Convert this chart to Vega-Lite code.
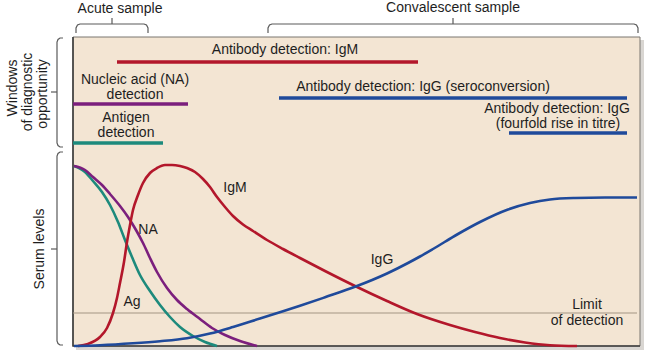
{
  "$schema": "https://vega.github.io/schema/vega-lite/v6.json",
  "width": 650,
  "height": 355,
  "autosize": {"type": "fit", "contains": "padding"},
  "padding": 0,
  "background": "white",
  "config": {"view": {"stroke": null}, "text": {"font": "Liberation Sans"}},
  "datasets": {
    "shadow": [{"x": 76, "y": 40, "x2": 644, "y2": 350}],
    "box": [{"x": 73, "y": 37, "x2": 640, "y2": 346}],
    "edges": [
      {"id": "left", "o": 1, "x": 73, "y": 37},
      {"id": "left", "o": 2, "x": 73, "y": 346},
      {"id": "left", "o": 3, "x": 640, "y": 346}
    ],
    "limit": [{"x": 73, "x2": 637, "y": 313}],
    "curves": [
      {"s": "Ag", "x": 74, "y": 166}, {"s": "Ag", "x": 85, "y": 172}, {"s": "Ag", "x": 93, "y": 181}, {"s": "Ag", "x": 102, "y": 192}, {"s": "Ag", "x": 110, "y": 205}, {"s": "Ag", "x": 118, "y": 222}, {"s": "Ag", "x": 125, "y": 240}, {"s": "Ag", "x": 132, "y": 257}, {"s": "Ag", "x": 140, "y": 275}, {"s": "Ag", "x": 150, "y": 291}, {"s": "Ag", "x": 160, "y": 305}, {"s": "Ag", "x": 170, "y": 317}, {"s": "Ag", "x": 180, "y": 327}, {"s": "Ag", "x": 193, "y": 336}, {"s": "Ag", "x": 205, "y": 342}, {"s": "Ag", "x": 217, "y": 346},
      {"s": "NA", "x": 74, "y": 166}, {"s": "NA", "x": 85, "y": 170}, {"s": "NA", "x": 93, "y": 177}, {"s": "NA", "x": 102, "y": 185}, {"s": "NA", "x": 110, "y": 194}, {"s": "NA", "x": 120, "y": 206}, {"s": "NA", "x": 128, "y": 217}, {"s": "NA", "x": 136, "y": 230}, {"s": "NA", "x": 143, "y": 243}, {"s": "NA", "x": 150, "y": 258}, {"s": "NA", "x": 157, "y": 272}, {"s": "NA", "x": 167, "y": 288}, {"s": "NA", "x": 177, "y": 300}, {"s": "NA", "x": 187, "y": 309}, {"s": "NA", "x": 200, "y": 319}, {"s": "NA", "x": 212, "y": 328}, {"s": "NA", "x": 225, "y": 335}, {"s": "NA", "x": 240, "y": 341}, {"s": "NA", "x": 257, "y": 346},
      {"s": "IgM", "x": 78, "y": 346}, {"s": "IgM", "x": 88, "y": 344}, {"s": "IgM", "x": 100, "y": 337}, {"s": "IgM", "x": 107, "y": 328}, {"s": "IgM", "x": 113, "y": 313}, {"s": "IgM", "x": 117, "y": 298}, {"s": "IgM", "x": 120, "y": 283}, {"s": "IgM", "x": 124, "y": 262}, {"s": "IgM", "x": 127, "y": 242}, {"s": "IgM", "x": 130, "y": 225}, {"s": "IgM", "x": 133, "y": 210}, {"s": "IgM", "x": 138, "y": 195}, {"s": "IgM", "x": 143, "y": 183}, {"s": "IgM", "x": 150, "y": 173}, {"s": "IgM", "x": 157, "y": 168}, {"s": "IgM", "x": 165, "y": 165}, {"s": "IgM", "x": 172, "y": 165}, {"s": "IgM", "x": 180, "y": 166}, {"s": "IgM", "x": 187, "y": 168}, {"s": "IgM", "x": 195, "y": 172}, {"s": "IgM", "x": 203, "y": 179}, {"s": "IgM", "x": 210, "y": 187}, {"s": "IgM", "x": 217, "y": 197}, {"s": "IgM", "x": 225, "y": 207}, {"s": "IgM", "x": 233, "y": 216}, {"s": "IgM", "x": 243, "y": 224.5}, {"s": "IgM", "x": 253, "y": 231}, {"s": "IgM", "x": 267, "y": 240}, {"s": "IgM", "x": 283, "y": 249}, {"s": "IgM", "x": 300, "y": 258}, {"s": "IgM", "x": 325, "y": 271}, {"s": "IgM", "x": 355, "y": 286}, {"s": "IgM", "x": 387, "y": 301}, {"s": "IgM", "x": 417, "y": 314}, {"s": "IgM", "x": 450, "y": 325}, {"s": "IgM", "x": 475, "y": 332}, {"s": "IgM", "x": 500, "y": 338}, {"s": "IgM", "x": 525, "y": 342.5}, {"s": "IgM", "x": 550, "y": 345.2}, {"s": "IgM", "x": 577, "y": 346},
      {"s": "IgG", "x": 74, "y": 346}, {"s": "IgG", "x": 100, "y": 345.2}, {"s": "IgG", "x": 133, "y": 343.3}, {"s": "IgG", "x": 160, "y": 341.2}, {"s": "IgG", "x": 187, "y": 338.2}, {"s": "IgG", "x": 210, "y": 333.5}, {"s": "IgG", "x": 233, "y": 327}, {"s": "IgG", "x": 260, "y": 318.5}, {"s": "IgG", "x": 283, "y": 311.3}, {"s": "IgG", "x": 300, "y": 305.8}, {"s": "IgG", "x": 325, "y": 297.3}, {"s": "IgG", "x": 355, "y": 286.8}, {"s": "IgG", "x": 387, "y": 273.5}, {"s": "IgG", "x": 408, "y": 263}, {"s": "IgG", "x": 420, "y": 256.5}, {"s": "IgG", "x": 433, "y": 249}, {"s": "IgG", "x": 458, "y": 234}, {"s": "IgG", "x": 480, "y": 222}, {"s": "IgG", "x": 508, "y": 209.5}, {"s": "IgG", "x": 530, "y": 203}, {"s": "IgG", "x": 550, "y": 199.5}, {"s": "IgG", "x": 575, "y": 198}, {"s": "IgG", "x": 605, "y": 197.5}, {"s": "IgG", "x": 637, "y": 197.5}
    ],
    "bars": [
      {"s": "IgM", "x": 117, "x2": 418, "y": 62},
      {"s": "NA", "x": 73, "x2": 188, "y": 104},
      {"s": "Ag", "x": 73, "x2": 163, "y": 143},
      {"s": "IgG", "x": 279, "x2": 627, "y": 98},
      {"s": "IgG", "x": 509, "x2": 627, "y": 133}
    ],
    "texts": [
      {"t": "Acute sample", "x": 120, "y": 9},
      {"t": "Convalescent sample", "x": 453, "y": 8},
      {"t": "Antibody detection: IgM", "x": 285, "y": 50},
      {"t": "Nucleic acid (NA)", "x": 135, "y": 80},
      {"t": "detection", "x": 135, "y": 94.5},
      {"t": "Antigen", "x": 126, "y": 118},
      {"t": "detection", "x": 126, "y": 132.5},
      {"t": "Antibody detection: IgG (seroconversion)", "x": 423, "y": 87},
      {"t": "Antibody detection: IgG", "x": 557, "y": 109},
      {"t": "(fourfold rise in titre)", "x": 558, "y": 123.5},
      {"t": "IgM", "x": 235, "y": 188},
      {"t": "NA", "x": 148, "y": 230},
      {"t": "Ag", "x": 132, "y": 302},
      {"t": "IgG", "x": 382, "y": 260},
      {"t": "Limit", "x": 587, "y": 305},
      {"t": "of detection", "x": 587, "y": 320.5}
    ],
    "rotated": [
      {"t": "Windows", "x": 13, "y": 88},
      {"t": "of diagnostic", "x": 28, "y": 92},
      {"t": "opportunity", "x": 43, "y": 94},
      {"t": "Serum levels", "x": 40, "y": 249}
    ],
    "braces": [
      {"id": "a", "o": 1, "x": 76, "y": 33}, {"id": "a", "o": 2, "x": 76, "y": 28}, {"id": "a", "o": 3, "x": 77.5, "y": 25}, {"id": "a", "o": 4, "x": 80, "y": 24}, {"id": "a", "o": 5, "x": 144, "y": 24}, {"id": "a", "o": 6, "x": 146.5, "y": 25}, {"id": "a", "o": 7, "x": 148, "y": 28}, {"id": "a", "o": 8, "x": 148, "y": 33},
      {"id": "at", "o": 1, "x": 112, "y": 24}, {"id": "at", "o": 2, "x": 112, "y": 18},
      {"id": "c", "o": 1, "x": 268, "y": 33}, {"id": "c", "o": 2, "x": 268, "y": 28}, {"id": "c", "o": 3, "x": 269.5, "y": 25}, {"id": "c", "o": 4, "x": 272, "y": 24}, {"id": "c", "o": 5, "x": 634, "y": 24}, {"id": "c", "o": 6, "x": 636.5, "y": 25}, {"id": "c", "o": 7, "x": 638, "y": 28}, {"id": "c", "o": 8, "x": 638, "y": 33},
      {"id": "ct", "o": 1, "x": 453, "y": 24}, {"id": "ct", "o": 2, "x": 453, "y": 18},
      {"id": "w", "o": 1, "x": 63, "y": 38}, {"id": "w", "o": 2, "x": 60, "y": 38}, {"id": "w", "o": 3, "x": 58, "y": 39.5}, {"id": "w", "o": 4, "x": 57, "y": 42}, {"id": "w", "o": 5, "x": 57, "y": 143}, {"id": "w", "o": 6, "x": 58, "y": 145.5}, {"id": "w", "o": 7, "x": 60, "y": 147}, {"id": "w", "o": 8, "x": 63, "y": 147},
      {"id": "wt", "o": 1, "x": 57, "y": 92}, {"id": "wt", "o": 2, "x": 51, "y": 92},
      {"id": "s", "o": 1, "x": 63, "y": 152}, {"id": "s", "o": 2, "x": 60, "y": 152}, {"id": "s", "o": 3, "x": 58, "y": 153.5}, {"id": "s", "o": 4, "x": 57, "y": 156}, {"id": "s", "o": 5, "x": 57, "y": 341}, {"id": "s", "o": 6, "x": 58, "y": 343.5}, {"id": "s", "o": 7, "x": 60, "y": 345}, {"id": "s", "o": 8, "x": 63, "y": 345},
      {"id": "st", "o": 1, "x": 57, "y": 249}, {"id": "st", "o": 2, "x": 51, "y": 249}
    ]
  },
  "layer": [
    {
      "data": {"name": "shadow"},
      "mark": {"type": "rect", "fill": "#b9b4ad", "opacity": 0.55},
      "encoding": {
        "x": {"field": "x", "type": "quantitative", "scale": {"domain": [0, 650], "nice": false, "zero": false}, "axis": null},
        "x2": {"field": "x2"},
        "y": {"field": "y", "type": "quantitative", "scale": {"domain": [0, 355], "reverse": true, "nice": false, "zero": false}, "axis": null},
        "y2": {"field": "y2"}
      }
    },
    {
      "data": {"name": "box"},
      "mark": {"type": "rect", "fill": "#f3e5d3", "stroke": "#7a7670", "strokeWidth": 1},
      "encoding": {
        "x": {"field": "x", "type": "quantitative", "axis": null},
        "x2": {"field": "x2"},
        "y": {"field": "y", "type": "quantitative", "axis": null},
        "y2": {"field": "y2"}
      }
    },
    {
      "data": {"name": "edges"},
      "mark": {"type": "line", "color": "#3e3e3e", "strokeWidth": 1.6},
      "encoding": {
        "x": {"field": "x", "type": "quantitative", "axis": null},
        "y": {"field": "y", "type": "quantitative", "axis": null},
        "order": {"field": "o"},
        "detail": {"field": "id"}
      }
    },
    {
      "data": {"name": "limit"},
      "mark": {"type": "rule", "color": "#a39684", "strokeWidth": 1.2},
      "encoding": {
        "x": {"field": "x", "type": "quantitative", "axis": null},
        "x2": {"field": "x2"},
        "y": {"field": "y", "type": "quantitative", "axis": null}
      }
    },
    {
      "data": {"name": "curves"},
      "mark": {"type": "line", "interpolate": "monotone", "strokeWidth": 2.6},
      "encoding": {
        "x": {"field": "x", "type": "quantitative", "axis": null},
        "y": {"field": "y", "type": "quantitative", "axis": null},
        "color": {"field": "s", "type": "nominal", "legend": null, "scale": {"domain": ["Ag", "NA", "IgM", "IgG"], "range": ["#1d8a7c", "#7b1f7d", "#b3172b", "#1f4a9b"]}},
        "order": {"field": "x"}
      }
    },
    {
      "data": {"name": "bars"},
      "mark": {"type": "rule", "strokeWidth": 3.6},
      "encoding": {
        "x": {"field": "x", "type": "quantitative", "axis": null},
        "x2": {"field": "x2"},
        "y": {"field": "y", "type": "quantitative", "axis": null},
        "color": {"field": "s", "type": "nominal", "legend": null}
      }
    },
    {
      "data": {"name": "braces"},
      "mark": {"type": "line", "color": "#5a5a5a", "strokeWidth": 1.2},
      "encoding": {
        "x": {"field": "x", "type": "quantitative", "axis": null},
        "y": {"field": "y", "type": "quantitative", "axis": null},
        "order": {"field": "o"},
        "detail": {"field": "id"}
      }
    },
    {
      "data": {"name": "texts"},
      "mark": {"type": "text", "fontSize": 14, "color": "#1e1e1e", "align": "center", "baseline": "middle"},
      "encoding": {
        "x": {"field": "x", "type": "quantitative", "axis": null},
        "y": {"field": "y", "type": "quantitative", "axis": null},
        "text": {"field": "t"}
      }
    },
    {
      "data": {"name": "rotated"},
      "mark": {"type": "text", "fontSize": 14, "color": "#1e1e1e", "align": "center", "baseline": "middle", "angle": 270},
      "encoding": {
        "x": {"field": "x", "type": "quantitative", "axis": null},
        "y": {"field": "y", "type": "quantitative", "axis": null},
        "text": {"field": "t"}
      }
    }
  ]
}
